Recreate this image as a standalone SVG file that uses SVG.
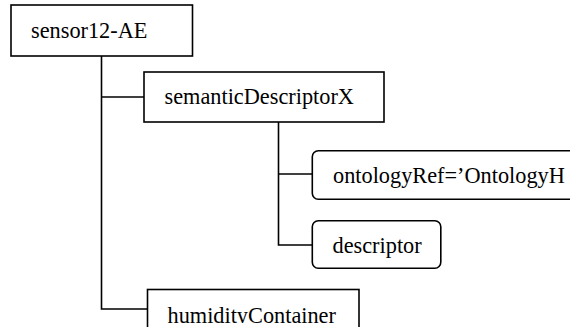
<svg xmlns="http://www.w3.org/2000/svg" width="570" height="327" viewBox="0 0 570 327">
<style>
.box{fill:#fff;stroke:#000;stroke-width:1.6}
.conn{fill:none;stroke:#000;stroke-width:1.6}
.t{font-family:'Liberation Serif','Times New Roman',serif;font-size:22.3px;fill:#000}
</style>
<defs>
<clipPath id="cut"><rect x="0" y="0" width="570" height="323"/></clipPath>
</defs>
<rect width="570" height="327" fill="#fff"/>
<g id="connectors">
<path class="conn" d="M101.5,56 V309 H148"/>
<path class="conn" d="M101.5,97 H144"/>
<path class="conn" d="M278.5,122 V245 H312"/>
<path class="conn" d="M278.5,174 H312"/>
</g>
<g id="sensor12-AE">
<rect class="box" x="11" y="5" width="181.5" height="51"/>
<text class="t" x="31" y="37.5">sensor12-AE</text>
</g>
<g id="semanticDescriptorX">
<rect class="box" x="144" y="72" width="240" height="50"/>
<text class="t" x="164.5" y="103.5">semanticDescriptorX</text>
</g>
<g id="ontologyRef">
<rect class="box" x="312.3" y="150.7" width="270" height="48.5" rx="6"/>
<text class="t" x="333" y="183">ontologyRef=’OntologyH</text>
</g>
<g id="descriptor">
<rect class="box" x="312.3" y="220.7" width="128.5" height="47.5" rx="6"/>
<text class="t" x="332.5" y="253">descriptor</text>
</g>
<g id="humidityContainer">
<rect class="box" x="147.5" y="289.5" width="211.5" height="60"/>
<text class="t" x="167.5" y="323" clip-path="url(#cut)">humidityContainer</text>
</g>
</svg>
